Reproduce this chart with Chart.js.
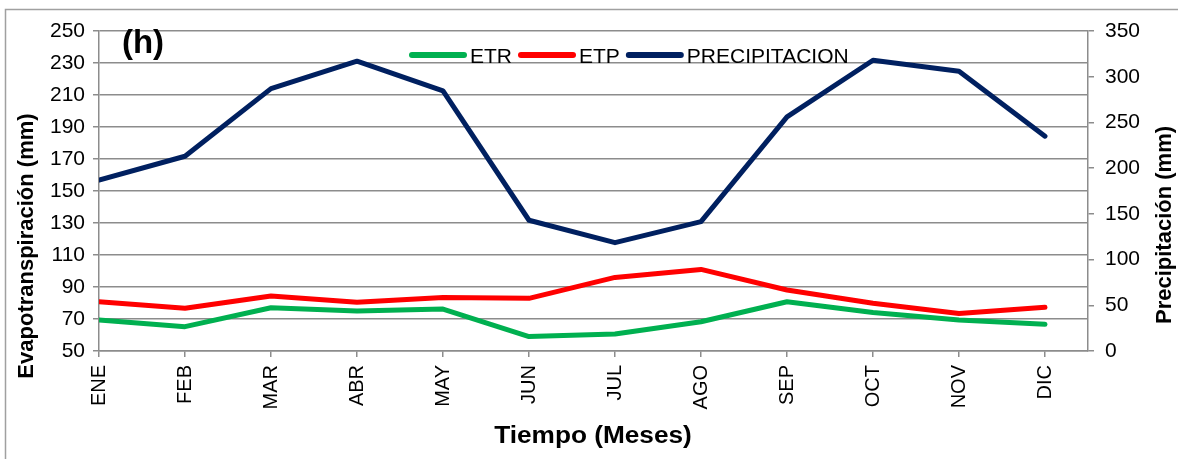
<!DOCTYPE html>
<html>
<head>
<meta charset="utf-8">
<script src="https://cdn.jsdelivr.net/npm/chart.js@4"></script>
<style>
  body { margin: 0; background: #fff; }
  #wrap { width: 1178px; height: 459px; }
</style>
</head>
<body>
<div id="wrap"><canvas id="myChart" width="1178" height="459"></canvas></div>
<script>
var months = ['ENE', 'FEB', 'MAR', 'ABR', 'MAY', 'JUN', 'JUL', 'AGO', 'SEP', 'OCT', 'NOV', 'DIC'];
var etr = [69.4, 65.2, 77, 75, 76.2, 59, 60.6, 68.3, 80.8, 74, 69.4, 66.7];
var etp = [80.8, 76.7, 84.4, 80.4, 83.5, 82.9, 96, 101, 88.1, 79.8, 73.5, 77.3];
var precipitacion = [187, 213, 287, 317, 284.5, 143, 118.5, 141.5, 256, 318, 306, 235];

var gridGrey = '#8c8c8c';
var sans = '"Liberation Sans", Arial, sans-serif';

function toPoints(values) {
  var pts = [];
  for (var i = 0; i < values.length; i++) {
    pts.push({ x: i, y: values[i] });
  }
  return pts;
}

// frame, panel letter, axis titles and the legend inside the plot
var decorations = {
  id: 'decorations',
  afterDraw: function (chart) {
    var ctx = chart.ctx;
    ctx.save();
    ctx.strokeStyle = '#a0a0a0';
    ctx.lineWidth = 1.5;
    ctx.strokeRect(5.5, 9.5, 1200, 500);

    ctx.fillStyle = '#000';
    ctx.font = 'bold 33px ' + sans;
    ctx.textAlign = 'center';
    ctx.textBaseline = 'middle';
    ctx.fillText('(h)', 143, 44);

    // the original text is a bit wider than Arial, stretch it slightly
    ctx.save();
    ctx.translate(593, 437);
    ctx.scale(1.14, 1);
    ctx.font = 'bold 23px ' + sans;
    ctx.fillText('Tiempo (Meses)', 0, 0);
    ctx.restore();

    ctx.font = 'bold 22px ' + sans;
    ctx.save();
    ctx.translate(27, 246);
    ctx.rotate(-Math.PI / 2);
    ctx.fillText('Evapotranspiración (mm)', 0, 0);
    ctx.restore();
    ctx.save();
    ctx.translate(1165, 225);
    ctx.rotate(-Math.PI / 2);
    ctx.fillText('Precipitación (mm)', 0, 0);
    ctx.restore();

    // legend
    var x = 410, y = 55;
    ctx.font = '21px ' + sans;
    ctx.textAlign = 'left';
    ctx.lineCap = 'round';
    chart.data.datasets.forEach(function (ds) {
      ctx.strokeStyle = ds.borderColor;
      ctx.lineWidth = 6;
      ctx.beginPath();
      ctx.moveTo(x + 2, y);
      ctx.lineTo(x + 54, y);
      ctx.stroke();
      ctx.fillStyle = '#000';
      ctx.fillText(ds.label, x + 60, y + 2);
      x += 60 + ctx.measureText(ds.label).width + 7;
    });
    ctx.restore();
  }
};

var ctx = document.getElementById('myChart').getContext('2d');
var myChart = new Chart(ctx, {
  type: 'line',
  data: {
    datasets: [{
      label: 'ETR',
      data: toPoints(etr),
      borderColor: '#00b050',
      backgroundColor: '#00b050',
      yAxisID: 'y'
    }, {
      label: 'ETP',
      data: toPoints(etp),
      borderColor: '#ff0000',
      backgroundColor: '#ff0000',
      yAxisID: 'y'
    }, {
      label: 'PRECIPITACION',
      data: toPoints(precipitacion),
      borderColor: '#002060',
      backgroundColor: '#002060',
      yAxisID: 'y2'
    }]
  },
  options: {
    responsive: false,
    animation: false,
    layout: { padding: { top: 31, left: 0, right: 0, bottom: 0 } },
    elements: {
      line: { borderWidth: 5, tension: 0, borderCapStyle: 'round', borderJoinStyle: 'round', fill: false },
      point: { radius: 0, hoverRadius: 0 }
    },
    plugins: {
      legend: { display: false },
      tooltip: { enabled: false }
    },
    scales: {
      x: {
        type: 'linear',
        min: 0,
        max: 11.5,
        afterFit: function (scale) { scale.height = 108; },
        ticks: {
          stepSize: 1,
          autoSkip: false,
          includeBounds: false,
          minRotation: 90,
          maxRotation: 90,
          padding: 8,
          color: '#000',
          font: { family: sans, size: 20 },
          callback: function (v) { return months[v] || ''; }
        },
        grid: { drawOnChartArea: false, drawTicks: true, tickLength: 6, color: gridGrey, lineWidth: 1.5 },
        border: { color: gridGrey, width: 1.5 }
      },
      y: {
        position: 'left',
        min: 50,
        max: 250,
        afterFit: function (scale) { scale.width = 99; },
        ticks: {
          stepSize: 20,
          padding: 8,
          color: '#000',
          font: { family: sans, size: 21 }
        },
        grid: { color: gridGrey, lineWidth: 1.5, tickLength: 6 },
        border: { color: gridGrey, width: 1.5 }
      },
      y2: {
        position: 'right',
        min: 0,
        max: 350,
        afterFit: function (scale) { scale.width = 90; },
        ticks: {
          stepSize: 50,
          padding: 11,
          color: '#000',
          font: { family: sans, size: 21 }
        },
        grid: { drawOnChartArea: false, color: gridGrey, lineWidth: 1.5, tickLength: 6 },
        border: { color: gridGrey, width: 1.5 }
      }
    }
  },
  plugins: [decorations]
});
</script>
</body>
</html>
